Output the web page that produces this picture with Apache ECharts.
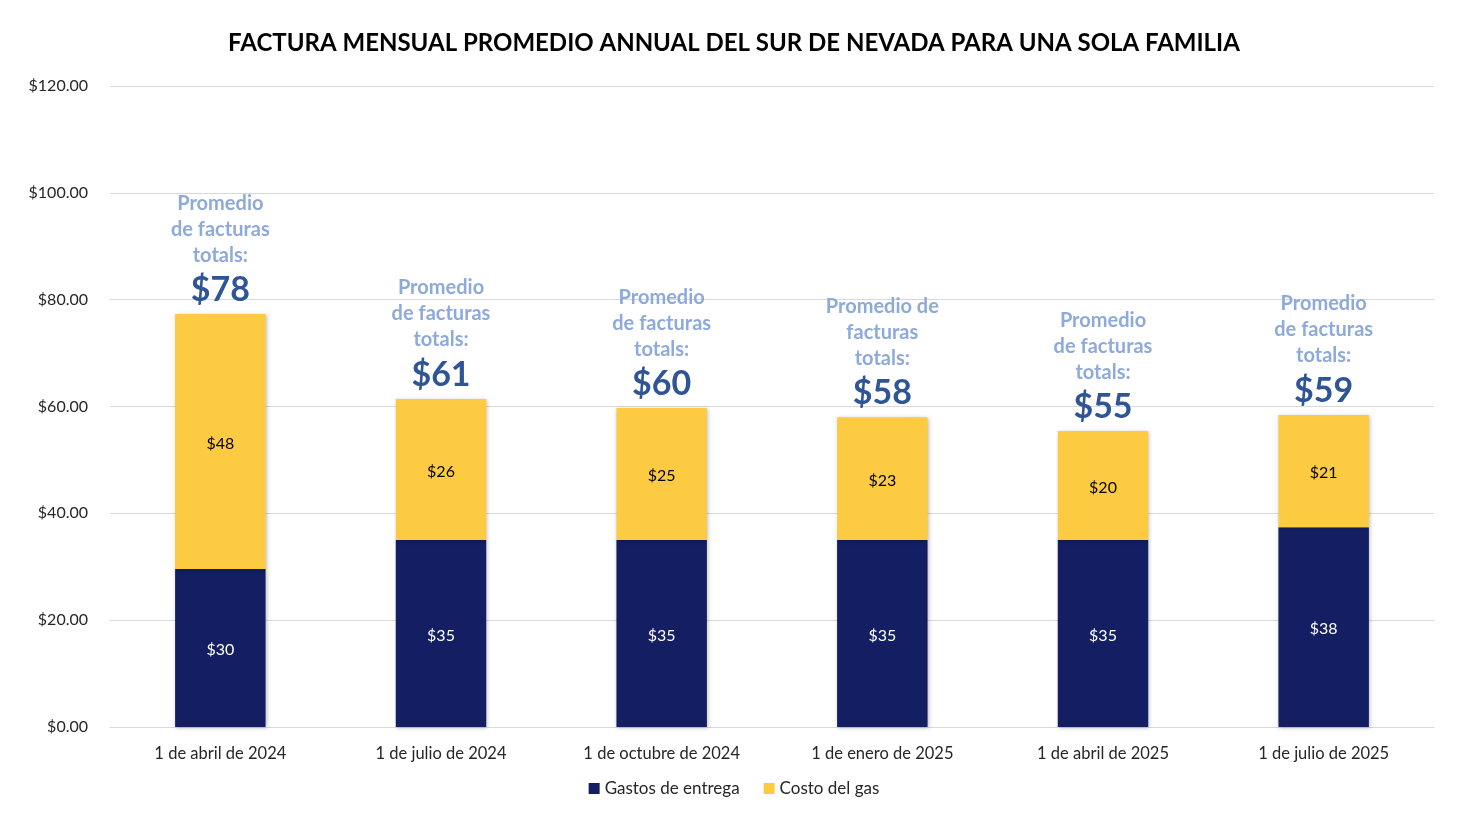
<!DOCTYPE html>
<html>
<head>
<meta charset="utf-8">
<script src="https://cdn.jsdelivr.net/npm/echarts@6/dist/echarts.min.js"></script>
<style>
  html, body { margin: 0; padding: 0; background: #fff; }
  #main { width: 1468px; height: 827px; }
</style>
</head>
<body>
<div id="main"></div>
<script>
'use strict';
var categories = ['1 de abril de 2024', '1 de julio de 2024', '1 de octubre de 2024',
                  '1 de enero de 2025', '1 de abril de 2025', '1 de julio de 2025'];
var entrega = [29.6, 35.0, 35.0, 35.0, 35.0, 37.4];
var gas = [47.7, 26.4, 24.7, 23.0, 20.4, 21.0];
var entregaLabels = ['$30', '$35', '$35', '$35', '$35', '$38'];
var gasLabels = ['$48', '$26', '$25', '$23', '$20', '$21'];
var totalLabels = ['$78', '$61', '$60', '$58', '$55', '$59'];
var promedioText = [
    'Promedio\nde facturas\ntotals:',
    'Promedio\nde facturas\ntotals:',
    'Promedio\nde facturas\ntotals:',
    'Promedio de\nfacturas\ntotals:',
    'Promedio\nde facturas\ntotals:',
    'Promedio\nde facturas\ntotals:'
];

var FONT = 'Lato, "Open Sans", sans-serif';
var chart = echarts.init(document.getElementById('main'));

var option = {
    animation: false,
    textStyle: { fontFamily: FONT },
    title: {
        text: 'FACTURA MENSUAL PROMEDIO ANNUAL DEL SUR DE NEVADA PARA UNA SOLA FAMILIA',
        left: 'center',
        top: 26,
        textStyle: { fontFamily: FONT, fontSize: 24, fontWeight: 'bold', color: '#000' }
    },
    legend: {
        bottom: 25,
        left: 'center',
        itemWidth: 11,
        itemHeight: 11,
        itemGap: 24,
        icon: 'rect',
        textStyle: { fontFamily: FONT, fontSize: 17, color: '#262626' },
        data: ['Gastos de entrega', 'Costo del gas']
    },
    grid: { left: 110, right: 34, top: 86, bottom: 100 },
    xAxis: {
        type: 'category',
        data: categories,
        axisTick: { show: false },
        axisLine: { lineStyle: { color: '#d9d9d9', width: 1 } },
        axisLabel: { fontFamily: FONT, fontSize: 16.5, color: '#262626', margin: 18 }
    },
    yAxis: {
        type: 'value',
        min: 0,
        max: 120,
        interval: 20,
        axisLabel: {
            fontFamily: FONT, fontSize: 16, color: '#262626', margin: 22,
            formatter: function (v) { return '$' + v.toFixed(2); }
        },
        splitLine: { lineStyle: { color: '#d9d9d9' } },
        axisLine: { show: false },
        axisTick: { show: false }
    },
    series: [
        {
            name: 'Gastos de entrega',
            type: 'bar',
            stack: 'total',
            barWidth: '41%',
            data: entrega,
            itemStyle: {
                color: '#141e62',
                shadowColor: 'rgba(0,0,0,0.25)', shadowBlur: 4, shadowOffsetX: 1, shadowOffsetY: 1
            },
            label: {
                show: true,
                position: 'inside',
                color: '#fff',
                fontFamily: FONT,
                fontSize: 16,
                offset: [0, 2],
                formatter: function (p) { return entregaLabels[p.dataIndex]; }
            }
        },
        {
            name: 'Costo del gas',
            type: 'bar',
            stack: 'total',
            data: gas,
            itemStyle: {
                color: '#fccb42',
                shadowColor: 'rgba(0,0,0,0.25)', shadowBlur: 4, shadowOffsetX: 1, shadowOffsetY: 1
            },
            label: {
                show: true,
                position: 'inside',
                color: '#000',
                fontFamily: FONT,
                fontSize: 16,
                offset: [0, 2],
                formatter: function (p) { return gasLabels[p.dataIndex]; }
            }
        },
        {
            // invisible carrier for the total annotations above each stack
            name: 'totales',
            type: 'bar',
            stack: 'total',
            data: gas.map(function () { return 0; }),
            itemStyle: { color: 'transparent' },
            tooltip: { show: false },
            label: {
                show: true,
                position: 'top',
                distance: 2,
                align: 'center',
                formatter: function (p) {
                    var lines = promedioText[p.dataIndex].split('\n').map(function (l) {
                        return '{p|' + l + '}';
                    });
                    return lines.join('\n') + '\n{t|' + totalLabels[p.dataIndex] + '}';
                },
                rich: {
                    p: { fontFamily: FONT, fontSize: 20, fontWeight: 'bold', color: '#8eaadb', lineHeight: 26, align: 'center' },
                    t: { fontFamily: FONT, fontSize: 34, fontWeight: 'bold', color: '#2f5597', lineHeight: 44, align: 'center' }
                }
            }
        }
    ]
};
chart.setOption(option);
window.onresize = function () { chart.resize(); };
</script>
</body>
</html>
